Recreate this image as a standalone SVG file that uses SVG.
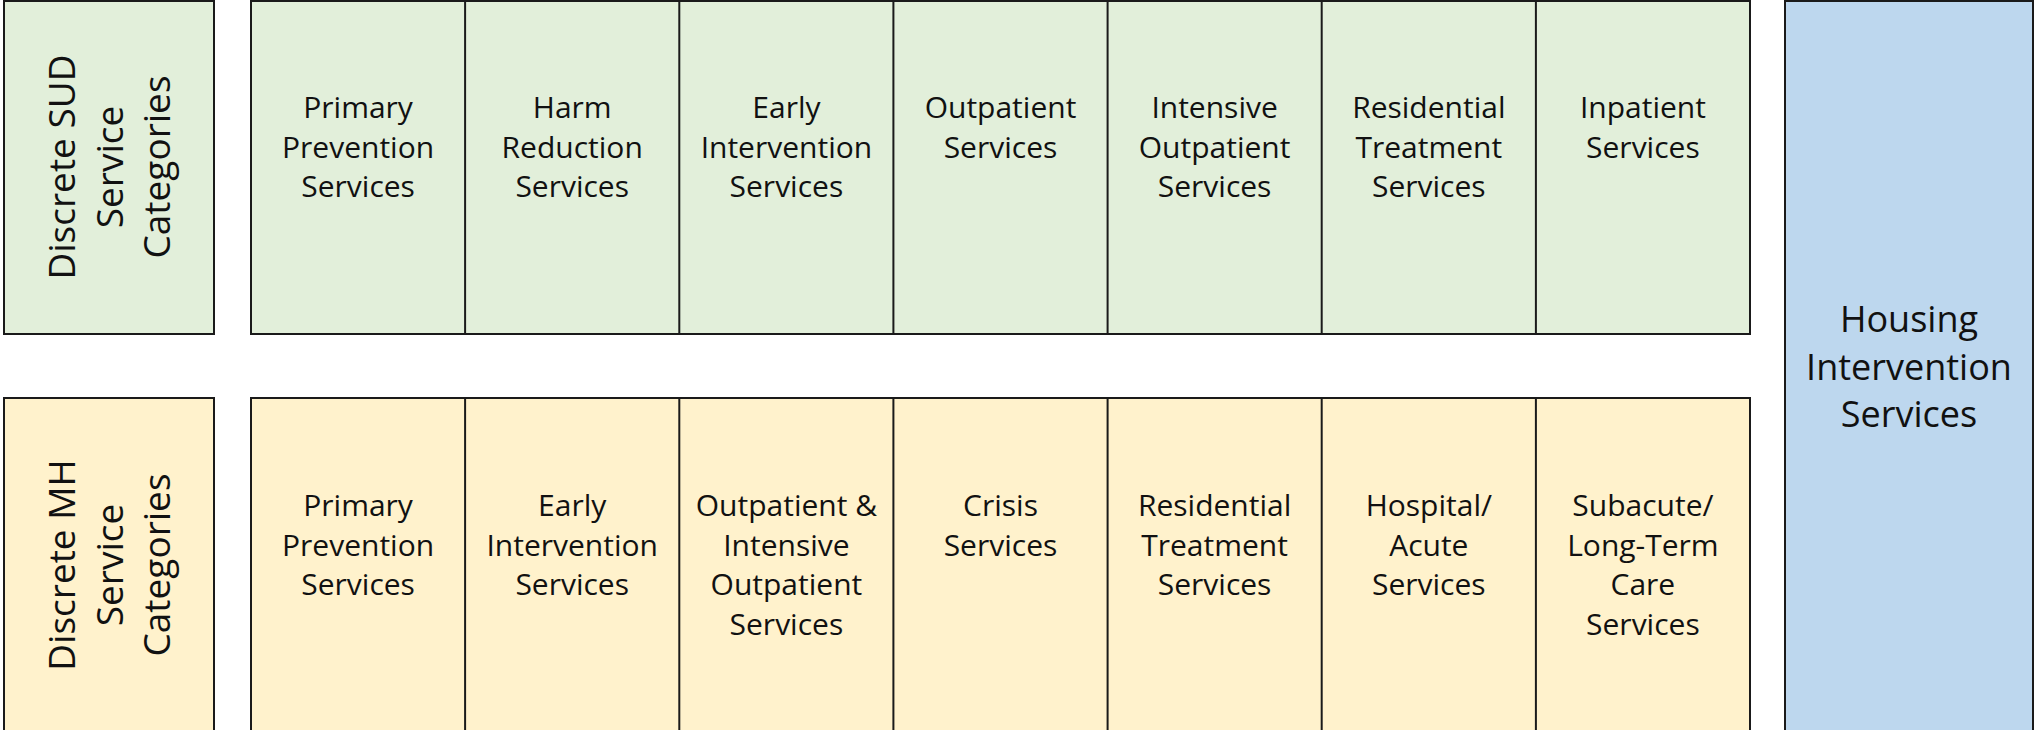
<svg xmlns="http://www.w3.org/2000/svg" width="2035" height="730" viewBox="0 0 2035 730">
<style>
.sud{fill:#E2EFDA}
.mh{fill:#FFF2CC}
.hs{fill:#BDD7EE}
.box{stroke:#1a1a1a;stroke-width:2}
.div{stroke:#1a1a1a;stroke-width:2}
text{font-family:"Open Sans","Liberation Sans",sans-serif;fill:#111;text-anchor:middle}
.t{font-size:30px}
.lab{font-size:37px}
.big{font-size:36px}
</style>
<rect width="2035" height="730" fill="#ffffff"/>
<g id="sud-label">
<rect class="sud box" x="4" y="1" width="210" height="333"/>
<text class="lab" transform="translate(75,167) rotate(-90)">Discrete SUD</text>
<text class="lab" transform="translate(123,167) rotate(-90)">Service</text>
<text class="lab" transform="translate(170,167) rotate(-90)">Categories</text>
</g>
<g id="mh-label">
<rect class="mh box" x="4" y="398" width="210" height="334"/>
<text class="lab" transform="translate(75,565) rotate(-90)">Discrete MH</text>
<text class="lab" transform="translate(123,565) rotate(-90)">Service</text>
<text class="lab" transform="translate(170,565) rotate(-90)">Categories</text>
</g>
<g id="sud-row">
<rect class="sud box" x="251" y="1" width="1499" height="333"/>
<line class="div" x1="465.1" y1="1" x2="465.1" y2="334"/>
<line class="div" x1="679.3" y1="1" x2="679.3" y2="334"/>
<line class="div" x1="893.4" y1="1" x2="893.4" y2="334"/>
<line class="div" x1="1107.6" y1="1" x2="1107.6" y2="334"/>
<line class="div" x1="1321.7" y1="1" x2="1321.7" y2="334"/>
<line class="div" x1="1535.9" y1="1" x2="1535.9" y2="334"/>
</g>
<g id="sud-primary-prevention"><text class="t" x="358.1" y="118">Primary<tspan x="358.1" dy="39.5">Prevention</tspan><tspan x="358.1" dy="39.5">Services</tspan></text></g>
<g id="sud-harm-reduction"><text class="t" x="572.2" y="118">Harm<tspan x="572.2" dy="39.5">Reduction</tspan><tspan x="572.2" dy="39.5">Services</tspan></text></g>
<g id="sud-early-intervention"><text class="t" x="786.4" y="118">Early<tspan x="786.4" dy="39.5">Intervention</tspan><tspan x="786.4" dy="39.5">Services</tspan></text></g>
<g id="sud-outpatient"><text class="t" x="1000.5" y="118">Outpatient<tspan x="1000.5" dy="39.5">Services</tspan></text></g>
<g id="sud-intensive-outpatient"><text class="t" x="1214.6" y="118">Intensive<tspan x="1214.6" dy="39.5">Outpatient</tspan><tspan x="1214.6" dy="39.5">Services</tspan></text></g>
<g id="sud-residential"><text class="t" x="1428.8" y="118">Residential<tspan x="1428.8" dy="39.5">Treatment</tspan><tspan x="1428.8" dy="39.5">Services</tspan></text></g>
<g id="sud-inpatient"><text class="t" x="1642.9" y="118">Inpatient<tspan x="1642.9" dy="39.5">Services</tspan></text></g>
<g id="mh-row">
<rect class="mh box" x="251" y="398" width="1499" height="334"/>
<line class="div" x1="465.1" y1="398" x2="465.1" y2="732"/>
<line class="div" x1="679.3" y1="398" x2="679.3" y2="732"/>
<line class="div" x1="893.4" y1="398" x2="893.4" y2="732"/>
<line class="div" x1="1107.6" y1="398" x2="1107.6" y2="732"/>
<line class="div" x1="1321.7" y1="398" x2="1321.7" y2="732"/>
<line class="div" x1="1535.9" y1="398" x2="1535.9" y2="732"/>
</g>
<g id="mh-primary-prevention"><text class="t" x="358.1" y="516">Primary<tspan x="358.1" dy="39.5">Prevention</tspan><tspan x="358.1" dy="39.5">Services</tspan></text></g>
<g id="mh-early-intervention"><text class="t" x="572.2" y="516">Early<tspan x="572.2" dy="39.5">Intervention</tspan><tspan x="572.2" dy="39.5">Services</tspan></text></g>
<g id="mh-outpatient-intensive"><text class="t" x="786.4" y="516">Outpatient &amp;<tspan x="786.4" dy="39.5">Intensive</tspan><tspan x="786.4" dy="39.5">Outpatient</tspan><tspan x="786.4" dy="39.5">Services</tspan></text></g>
<g id="mh-crisis"><text class="t" x="1000.5" y="516">Crisis<tspan x="1000.5" dy="39.5">Services</tspan></text></g>
<g id="mh-residential"><text class="t" x="1214.6" y="516">Residential<tspan x="1214.6" dy="39.5">Treatment</tspan><tspan x="1214.6" dy="39.5">Services</tspan></text></g>
<g id="mh-hospital-acute"><text class="t" x="1428.8" y="516">Hospital/<tspan x="1428.8" dy="39.5">Acute</tspan><tspan x="1428.8" dy="39.5">Services</tspan></text></g>
<g id="mh-subacute-ltc"><text class="t" x="1642.9" y="516">Subacute/<tspan x="1642.9" dy="39.5">Long-Term</tspan><tspan x="1642.9" dy="39.5">Care</tspan><tspan x="1642.9" dy="39.5">Services</tspan></text></g>
<g id="housing">
<rect class="hs box" x="1785" y="1" width="248" height="731"/>
<text class="big" x="1909" y="332">Housing<tspan x="1909" dy="47.5">Intervention</tspan><tspan x="1909" dy="47.5">Services</tspan></text>
</g>
<g id="connectors"></g>
</svg>
